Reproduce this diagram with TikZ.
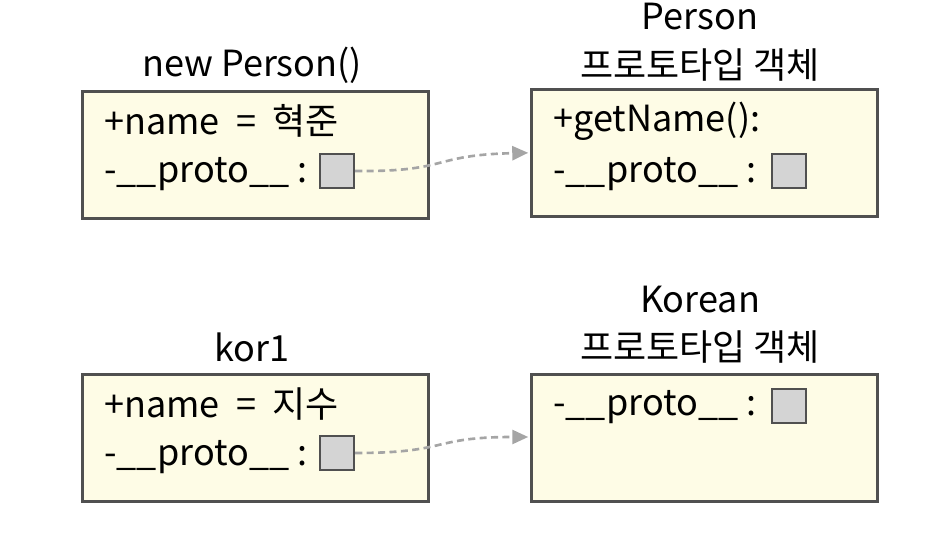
\documentclass[tikz,border=0pt]{standalone}
\usepackage{fontspec}
\setmainfont{Noto Sans CJK KR}
\usetikzlibrary{arrows.meta}
\definecolor{boxfill}{HTML}{FEFCE6}
\definecolor{boxline}{HTML}{505050}
\definecolor{slotfill}{HTML}{D4D4D4}
\definecolor{linkgray}{HTML}{A5A5A5}

\begin{document}
\begin{tikzpicture}[x=0.02cm, y=-0.02cm,
    every node/.style={font=\fontsize{20.5}{24}\selectfont, inner sep=0pt},
    objbox/.style={draw=boxline, fill=boxfill, line width=1.5pt,
      minimum width=6.92cm, minimum height=2.54cm, anchor=north west},
    slot/.style={draw=boxline, fill=slotfill, line width=1.4pt, minimum size=0.68cm},
    field/.style={anchor=west},
    link/.style={linkgray, line width=1.5pt, dash pattern=on 4pt off 2.5pt,
      shorten >=1pt, -{Triangle[length=0.32cm, width=0.28cm]}}]
  \useasboundingbox (0,0) rectangle (952,536);
  % object made by new Person()
  \node[objbox] (objP) at (81,90) {};
  \node (titleP) at (252,65) {new Person()};
  \node[field] (nameP) at (104,121) {+name \ = \ 혁준};
  \node[field] (protoLblP) at (104,174) {-\_\_proto\_\_ :};
  \node[slot] (slotP) at (337,171) {};
  % Person prototype
  \node[objbox] (protoP) at (530,88) {};
  \node (protoTitleP) at (700,17) {Person};
  \node (protoSubP) at (700,65) {프로토타입 객체};
  \node[field] (getName) at (553,121) {+getName():};
  \node[field] (protoLblPP) at (553,174) {-\_\_proto\_\_ :};
  \node[slot] (slotPP) at (789,171) {};
  % object kor1
  \node[objbox] (objK) at (81,373) {};
  \node (titleK) at (252,347) {kor1};
  \node[field] (nameK) at (104,404) {+name \ = \ 지수};
  \node[field] (protoLblK) at (104,457) {-\_\_proto\_\_ :};
  \node[slot] (slotK) at (337,453) {};
  % Korean prototype
  \node[objbox] (protoK) at (530,373) {};
  \node (protoTitleK) at (700,300) {Korean};
  \node (protoSubK) at (700,347) {프로토타입 객체};
  \node[field] (protoLblKK) at (553,407) {-\_\_proto\_\_ :};
  \node[slot] (slotKK) at (789,406) {};
  % __proto__ links
  \draw[link] (slotP.east) .. controls (450,172) and (430,155) .. (protoP.west);
  \draw[link] (slotK.east) .. controls (450,453) and (430,437) .. (protoK.west |- 0,437);
\end{tikzpicture}
\end{document}
